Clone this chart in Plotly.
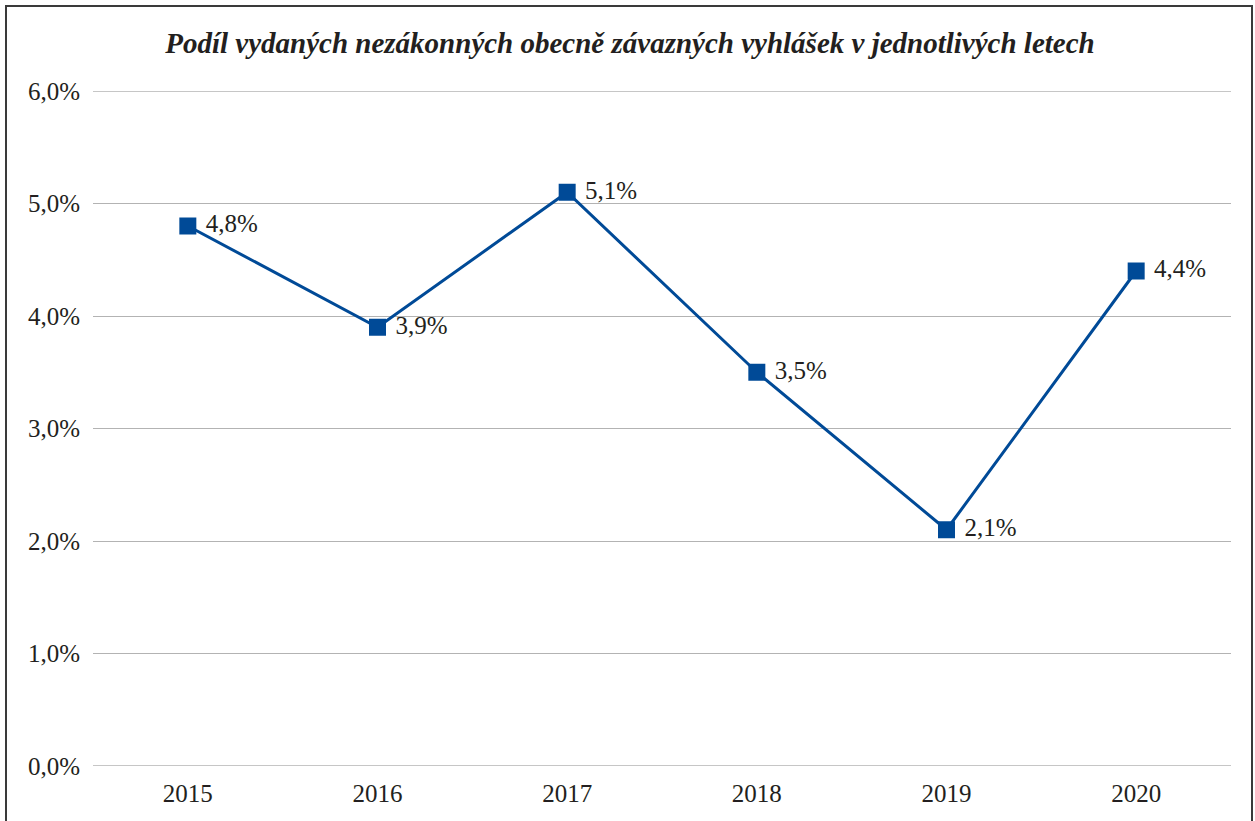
import plotly.graph_objects as go

years = ["2015", "2016", "2017", "2018", "2019", "2020"]
share = [0.048, 0.039, 0.051, 0.035, 0.021, 0.044]
y_ticks = [0, 0.01, 0.02, 0.03, 0.04, 0.05, 0.06]
title_text = "Podíl vydaných nezákonných obecně závazných vyhlášek v jednotlivých letech"

W, H = 1255, 821
L, R, T, B = 93, 1231, 91, 766
pw, ph = R - L, B - T
SERIF = "Liberation Serif, Times New Roman, serif"
TXT = "#231f20"
GRID = "#b3b3b3"

def px_x(x):
    return (x - L) / pw

def px_y(y):
    return (B - y) / ph

fig = go.Figure()
fig.add_trace(go.Scatter(
    x=years, y=share,
    mode="lines+markers+text",
    line=dict(color="#004a97", width=3),
    marker=dict(symbol="square", size=17, color="#004a97"),
    texttemplate="\u00a0%{y:.1%}",
    textposition="middle right",
    textfont=dict(family=SERIF, size=25, color=TXT),
    cliponaxis=False,
    showlegend=False,
))

shapes = [dict(
    type="rect", xref="paper", yref="paper",
    x0=px_x(6), x1=px_x(1252), y0=px_y(840), y1=px_y(6),
    line=dict(color="#3a3a3a", width=2), fillcolor="rgba(0,0,0,0)",
    layer="below",
)]
for v in (y_ticks[0], y_ticks[-1]):
    shapes.append(dict(
        type="line", xref="paper", yref="y", x0=0, x1=1, y0=v, y1=v,
        line=dict(color=GRID, width=1.3), layer="below",
    ))

fig.update_layout(
    width=W, height=H,
    margin=dict(l=L, r=W - R, t=T, b=H - B),
    paper_bgcolor="white", plot_bgcolor="white",
    separators=", ",
    font=dict(family=SERIF, size=25, color=TXT),
    title=dict(
        text="<b><i>" + title_text + "</i></b>",
        x=630 / W, xanchor="center",
        y=1 - 43 / H, yanchor="middle", yref="container",
        font=dict(family=SERIF, size=29, color=TXT),
    ),
    xaxis=dict(
        type="category", range=[-0.5, 5.5],
        showgrid=False, showline=False, zeroline=False,
        ticks="", ticklabelstandoff=10,
        tickfont=dict(family=SERIF, size=25, color=TXT),
    ),
    yaxis=dict(
        range=[0, 0.06], tickvals=y_ticks,
        tickformat=".1%",
        showgrid=True, gridcolor=GRID, gridwidth=1.3,
        zeroline=False, showline=False, ticks="",
        ticklabelstandoff=12,
        tickfont=dict(family=SERIF, size=25, color=TXT),
    ),
    shapes=shapes,
)

fig.write_html("out.html", config={"displayModeBar": False},
               post_script="document.body.style.margin='0';")
